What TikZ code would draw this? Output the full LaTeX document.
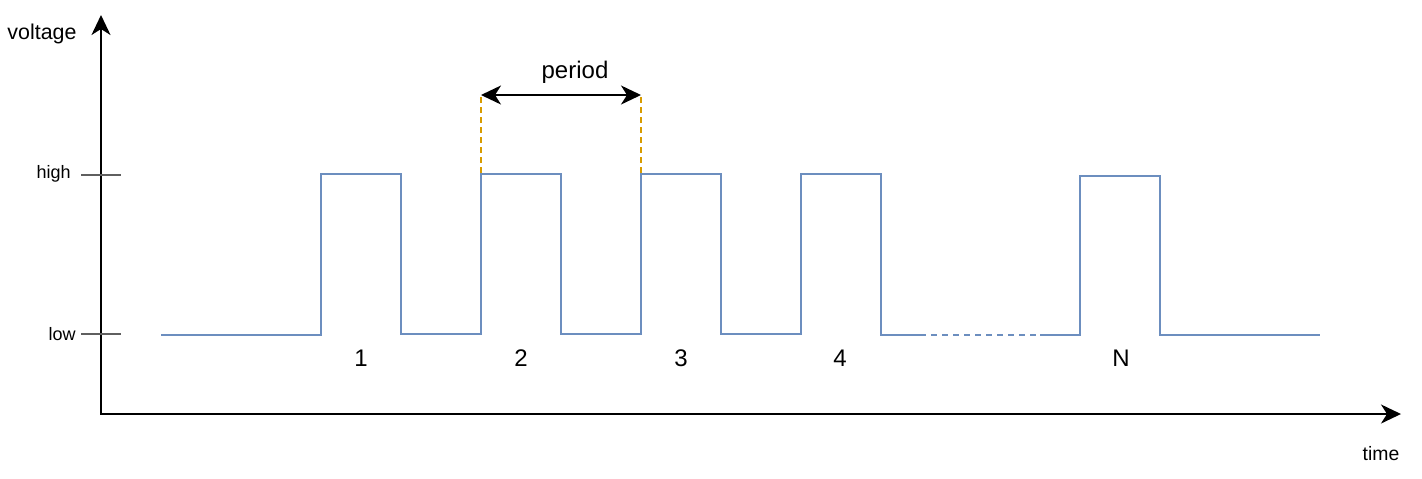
\documentclass[tikz,border=0pt]{standalone}
\usepackage{fontspec}
\setmainfont{Liberation Sans}
\usetikzlibrary{arrows.meta}
\definecolor{sigblue}{HTML}{6C8EBF}
\definecolor{markorange}{HTML}{D79B00}
\definecolor{tickgray}{HTML}{5F5F5F}
\tikzset{
  axis/.style={line width=1pt, -{Stealth[length=10pt,width=9.5pt,inset=3pt]}},
  signal/.style={line width=1pt, sigblue},
  tickmark/.style={line width=1.1pt, tickgray},
  marker/.style={line width=0.8pt, markorange, dash pattern=on 3pt off 2pt},
  biglabel/.style={font=\fontsize{12}{14}\selectfont, inner sep=0pt},
  smalllabel/.style={font=\fontsize{9}{11}\selectfont, inner sep=0pt}
}
\begin{document}
\begin{tikzpicture}[x=0.5pt,y=-0.5pt]
\useasboundingbox (0,0) rectangle (1422,478);
% axes
\draw[axis] (101,414) -- (101,15);
\draw[axis] (100,414) -- (1401,414);
\node[font=\fontsize{10.7}{12}\selectfont, inner sep=0pt] (voltage) at (42,34) {voltage};
\node[font=\fontsize{9.7}{12}\selectfont, inner sep=0pt] (time) at (1381,454) {time};
% levels
\draw[tickmark] (81,175) -- (121,175);
\draw[tickmark] (81,334) -- (121,334);
\node[smalllabel, anchor=east] (high) at (71,174) {high};
\node[smalllabel, anchor=east] (low) at (76,334) {low};
% pulses
\draw[signal] (161,335) -- (321,335) -- (321,174) -- (401,174) -- (401,334)
  -- (481,334) -- (481,174) -- (561,174) -- (561,334)
  -- (641,334) -- (641,174) -- (721,174) -- (721,334)
  -- (801,334) -- (801,174) -- (881,174) -- (881,335) -- (920,335);
\draw[signal, dash pattern=on 3pt off 2.5pt] (920,335) -- (1040,335);
\draw[signal] (1040,335) -- (1080,335) -- (1080,176) -- (1160,176) -- (1160,335) -- (1320,335);
% period
\coordinate (p1) at (481,95);
\coordinate (p2) at (641,95);
\draw[marker] (481,97) -- (481,174);
\draw[marker] (641,97) -- (641,174);
\draw[line width=1pt, {Stealth[length=10pt,width=9.5pt,inset=3pt]}-{Stealth[length=10pt,width=9.5pt,inset=3pt]}] (p1) -- (p2);
\node[biglabel] (period) at (575,72) {period};
% pulse numbers
\node[biglabel] (n1) at (361,358) {1};
\node[biglabel] (n2) at (521,358) {2};
\node[biglabel] (n3) at (681,358) {3};
\node[biglabel] (n4) at (840,358) {4};
\node[biglabel] (nN) at (1121,358) {N};
\end{tikzpicture}
\end{document}
